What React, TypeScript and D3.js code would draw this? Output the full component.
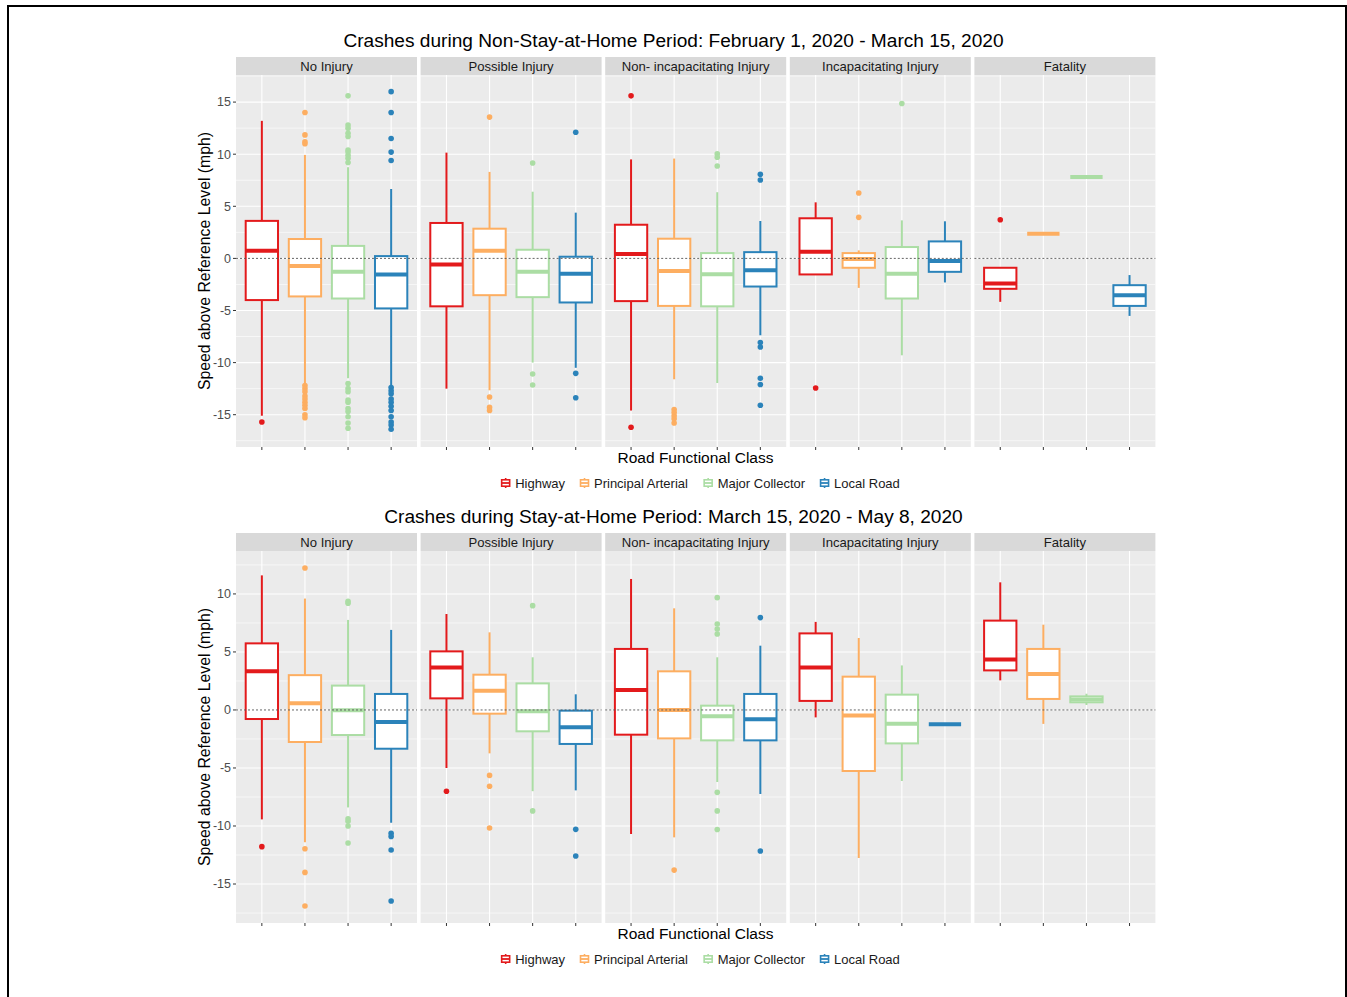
import React from "react";
import * as d3 from "d3";

const injuryTypes = ["No Injury", "Possible Injury", "Non- incapacitating Injury", "Incapacitating Injury", "Fatality"];
const roadClasses = ["Highway", "Principal Arterial", "Major Collector", "Local Road"];
const classColors = ["#E31A1C", "#FDAE61", "#ABDDA4", "#2B83BA"];

const yTicksBefore = [-15, -10, -5, 0, 5, 10, 15];
const yTicksAfter = [-15, -10, -5, 0, 5, 10];

// each box: [lower whisker, q1, median, q3, upper whisker]
const beforeBoxes = [
  [[-15.1, -4.0, 0.73, 3.6, 13.2], [-12.0, -3.65, -0.74, 1.86, 9.93], [-11.5, -3.85, -1.29, 1.2, 8.75], [-12.2, -4.8, -1.54, 0.22, 6.66]],
  [[-12.5, -4.6, -0.58, 3.4, 10.15], [-12.66, -3.53, 0.73, 2.85, 8.3], [-10.0, -3.72, -1.29, 0.83, 6.4], [-10.5, -4.23, -1.48, 0.16, 4.39]],
  [[-14.6, -4.1, 0.41, 3.23, 9.5], [-11.6, -4.56, -1.22, 1.89, 9.58], [-11.96, -4.6, -1.51, 0.51, 6.35], [-7.38, -2.7, -1.13, 0.6, 3.59]],
  [[-1.54, -1.54, 0.64, 3.85, 5.38], [-2.83, -0.9, -0.07, 0.51, 0.77], [-9.3, -3.85, -1.48, 1.09, 3.65], [-2.31, -1.29, -0.26, 1.63, 3.56]],
  [[-4.17, -2.92, -2.4, -0.9, -0.9], [2.37, 2.37, 2.37, 2.37, 2.37], [7.82, 7.82, 7.82, 7.82, 7.82], [-5.52, -4.56, -3.53, -2.57, -1.6]],
];

const beforeOutliers = [
  [
    [-15.7],
    [14.0, 11.85, 11.2, 11.0, -12.2, -12.5, -12.8, -13.2, -13.5, -13.8, -14.1, -14.4, -15.0, -15.3],
    [15.6, 12.8, 12.5, 12.0, 11.7, 10.4, 10.2, 9.9, 9.6, 9.2, -12.0, -12.5, -12.8, -13.6, -13.8, -14.4, -14.7, -15.2, -15.8, -16.3],
    [16.0, 14.0, 11.5, 10.2, 9.4, -12.4, -12.7, -13.0, -13.5, -13.8, -14.2, -14.6, -15.2, -15.7, -16.0, -16.4],
  ],
  [[], [13.56, -13.3, -14.3, -14.6], [9.16, -11.1, -12.15], [12.1, -11.03, -13.37]],
  [[15.6, -16.2], [-14.5, -14.8, -15.1, -15.4, -15.8], [10.03, 9.7, 8.87], [8.07, 7.53, -8.08, -8.5, -11.5, -12.1, -14.1]],
  [[-12.44], [6.28, 3.94], [14.87], []],
  [[3.71], [], [], []],
];

const afterBoxes = [
  [[-9.43, -0.78, 3.33, 5.74, 11.6], [-11.4, -2.76, 0.57, 3.0, 9.6], [-8.4, -2.16, -0.03, 2.1, 7.76], [-9.72, -3.34, -1.03, 1.38, 6.9]],
  [[-5.0, 1.0, 3.67, 5.05, 8.27], [-3.74, -0.32, 1.66, 3.04, 6.69], [-7.0, -1.84, -0.12, 2.29, 4.54], [-6.93, -2.93, -1.5, -0.06, 1.35]],
  [[-10.69, -2.13, 1.72, 5.26, 11.29], [-10.98, -2.45, 0, 3.33, 8.76], [-6.21, -2.62, -0.55, 0.37, 4.54], [-7.24, -2.62, -0.81, 1.38, 5.54]],
  [[-0.64, 0.78, 3.67, 6.6, 7.59], [-12.76, -5.26, -0.47, 2.87, 6.2], [-6.12, -2.88, -1.18, 1.32, 3.84], [-1.24, -1.24, -1.24, -1.24, -1.24]],
  [[2.55, 3.41, 4.34, 7.7, 11.0], [-1.2, 0.95, 3.1, 5.26, 7.35], [0.43, 0.66, 0.91, 1.17, 1.4], null],
];

const afterOutliers = [
  [[-11.78], [12.24, -11.96, -14.0, -16.9], [9.36, 9.2, -9.37, -9.6, -10.0, -11.47], [-10.64, -10.9, -12.07, -16.47]],
  [[-7.0], [-5.64, -6.58, -10.17], [8.99, -8.7], [-10.29, -12.59]],
  [[], [-13.8], [9.68, 7.41, 6.98, 6.55, -7.1, -8.7, -10.3], [7.96, -12.16]],
  [[], [], [], []],
  [[], [], [], []],
];

const FONT = "Liberation Sans, Arial, sans-serif";

function textWidth(s, size) {
  const c = document.createElement("canvas").getContext("2d");
  c.font = `${size}px ${FONT}`;
  return c.measureText(s).width;
}

function Legend({ cy }) {
  const size = 13;
  const keyW = 13, gap = 3, itemGap = 13;
  const widths = roadClasses.map(r => textWidth(r, size));
  const total = d3.sum(widths) + roadClasses.length * (keyW + gap) + (roadClasses.length - 1) * itemGap;
  let x = 699.5 - total / 2;
  const items = roadClasses.map((r, i) => {
    const kx = x + keyW / 2;
    const tx = x + keyW + gap;
    x = tx + widths[i] + itemGap;
    return { r, kx, tx, col: classColors[i] };
  });
  return (
    <g>
      {items.map(it => (
        <g key={it.r}>
          <line x1={it.kx} x2={it.kx} y1={cy - 5} y2={cy + 5} stroke={it.col} strokeWidth={1.6} />
          <rect x={it.kx - 4} y={cy - 3.2} width={8} height={6.4} fill="white" stroke={it.col} strokeWidth={1.6} />
          <line x1={it.kx - 4} x2={it.kx + 4} y1={cy} y2={cy} stroke={it.col} strokeWidth={1.8} />
          <text x={it.tx} y={cy + 4.5} fontSize={size} fontFamily={FONT} fill="#1A1A1A">{it.r}</text>
        </g>
      ))}
    </g>
  );
}

function FacetPlot({ top, title, yDomain, yTicks, boxes, outliers }) {
  const panelTop = top + 18;
  const panelBottom = top + 390;
  const y = d3.scaleLinear().domain(yDomain).range([panelBottom, panelTop]);
  const minorTicks = d3.range(-17.5, 20, 5).filter(v => v > yDomain[0] && v < yDomain[1]);
  const panelW = 181;
  const panelStep = 184.6;
  const left0 = 236;

  return (
    <g>
      <text x={673.5} y={top - 10} textAnchor="middle" fontSize={19.1} fontFamily={FONT} fill="black">{title}</text>
      {injuryTypes.map((inj, pi) => {
        const left = left0 + pi * panelStep;
        const x = d3.scalePoint().domain(roadClasses).range([left, left + panelW]).padding(0.6);
        const bw = x.step() * 0.75;
        return (
          <g key={inj}>
            <rect x={left} y={top} width={panelW} height={18} fill="#D9D9D9" />
            <text x={left + panelW / 2} y={top + 13.8} textAnchor="middle" fontSize={13.1} fontFamily={FONT} fill="#1A1A1A">{inj}</text>
            <rect x={left} y={panelTop} width={panelW} height={panelBottom - panelTop} fill="#EBEBEB" />
            {minorTicks.map(v => (
              <line key={"m" + v} x1={left} x2={left + panelW} y1={y(v)} y2={y(v)} stroke="white" strokeWidth={0.6} />
            ))}
            {yTicks.map(v => (
              <line key={"g" + v} x1={left} x2={left + panelW} y1={y(v)} y2={y(v)} stroke="white" strokeWidth={1.1} />
            ))}
            {roadClasses.map(rc => (
              <g key={"v" + rc}>
                <line x1={x(rc)} x2={x(rc)} y1={panelTop} y2={panelBottom} stroke="white" strokeWidth={1.1} />
                <line x1={x(rc)} x2={x(rc)} y1={panelBottom} y2={panelBottom + 3} stroke="#333" strokeWidth={1} />
              </g>
            ))}
            {roadClasses.map((rc, ci) => {
              const b = boxes[pi][ci];
              const col = classColors[ci];
              const cx = x(rc);
              const pts = outliers[pi][ci];
              return (
                <g key={"b" + rc}>
                  {b && (
                    <g>
                      <line x1={cx} x2={cx} y1={y(b[0])} y2={y(b[1])} stroke={col} strokeWidth={2} />
                      <line x1={cx} x2={cx} y1={y(b[3])} y2={y(b[4])} stroke={col} strokeWidth={2} />
                      <rect x={cx - bw / 2} y={y(b[3])} width={bw} height={y(b[1]) - y(b[3])} fill="white" stroke={col} strokeWidth={2} />
                      <line x1={cx - bw / 2} x2={cx + bw / 2} y1={y(b[2])} y2={y(b[2])} stroke={col} strokeWidth={4} />
                    </g>
                  )}
                  {pts.map((v, k) => (
                    <circle key={k} cx={cx} cy={y(v)} r={2.8} fill={col} />
                  ))}
                </g>
              );
            })}
            <line x1={left} x2={left + panelW} y1={y(0)} y2={y(0)} stroke="#555" strokeWidth={0.9} strokeDasharray="2,2" />
          </g>
        );
      })}
      {yTicks.map(v => (
        <g key={"t" + v}>
          <line x1={233} x2={236} y1={y(v)} y2={y(v)} stroke="#333" strokeWidth={1} />
          <text x={231} y={y(v) + 4.4} textAnchor="end" fontSize={12.5} fontFamily={FONT} fill="#4D4D4D">{v}</text>
        </g>
      ))}
      <text transform={`translate(210,${(panelTop + panelBottom) / 2}) rotate(-90)`} textAnchor="middle" fontSize={15.8} fontFamily={FONT} fill="black">
        Speed above Reference Level (mph)
      </text>
      <text x={695.5} y={top + 406} textAnchor="middle" fontSize={15.5} fontFamily={FONT} fill="black">Road Functional Class</text>
      <Legend cy={top + 426} />
    </g>
  );
}

export default function App() {
  return (
    <svg width={1347} height={997} style={{ position: "absolute", left: 0, top: 0, background: "white" }}>
      <rect x={0} y={0} width={1347} height={997} fill="white" />
      <rect x={8} y={6} width={1338} height={1000} fill="none" stroke="black" strokeWidth={2} />
      <FacetPlot
        top={57}
        title="Crashes during Non-Stay-at-Home Period: February 1, 2020 - March 15, 2020"
        yDomain={[-18.1, 17.6]}
        yTicks={yTicksBefore}
        boxes={beforeBoxes}
        outliers={beforeOutliers}
      />
      <FacetPlot
        top={533}
        title="Crashes during Stay-at-Home Period: March 15, 2020 - May 8, 2020"
        yDomain={[-18.36, 13.7]}
        yTicks={yTicksAfter}
        boxes={afterBoxes}
        outliers={afterOutliers}
      />
    </svg>
  );
}
